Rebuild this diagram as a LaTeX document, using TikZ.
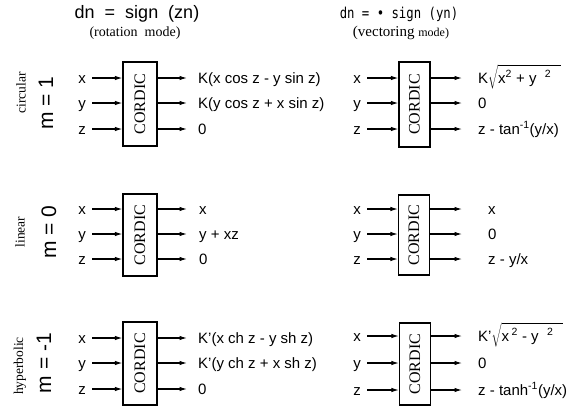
\documentclass[tikz,border=0pt]{standalone}
\usepackage{fontspec}
\setmainfont{Liberation Serif}
\setsansfont{Liberation Sans}
\newfontfamily\monof[FakeStretch=0.82]{DejaVu Sans Mono}
\usetikzlibrary{arrows.meta}
\begin{document}
\begin{tikzpicture}[x=1pt,y=-1pt,
  cbox/.style={draw, line width=1.2pt, minimum width=34pt, inner sep=0pt,
    font=\rmfamily\fontsize{16}{16}\selectfont},
  rbox/.style={cbox, minimum width=31pt},
  lbl/.style={inner xsep=0pt, inner ysep=0pt, text height=11pt, text depth=1pt,
    font=\sffamily\fontsize{15}{18}\selectfont},
  inl/.style={lbl, anchor=east},
  outl/.style={lbl, anchor=west},
  arr/.style={line width=1.1pt, -{Latex[length=7.5pt,width=4.5pt]}},
  inarr/.style={arr, shorten <=6pt},
  side/.style={rotate=90, font=\rmfamily\fontsize{13.5}{13.5}\selectfont},
  mlab/.style={rotate=90, font=\sffamily\fontsize{21}{21}\selectfont}
]
\useasboundingbox (0,0) rectangle (576,407);

% titles
\node[anchor=base, font=\sffamily\fontsize{18}{20}\selectfont] (t1) at (137,18) {dn\ \ =\ \ sign\ \ (zn)};
\node[anchor=base, font=\rmfamily\fontsize{14}{16}\selectfont] (s1) at (135,36) {(rotation\ \ mode)};
\node[anchor=base, font=\monof\fontsize{15}{17}\selectfont] (t2) at (399,18) {dn = • sign (yn)};
\node[anchor=base, font=\rmfamily] (s2) at (401,36) {\fontsize{15}{17}\selectfont(vectoring \fontsize{12}{14}\selectfont mode)};

% side labels
\node[side] (c1) at (21,93) {circular};
\node[mlab] (m1) at (46,103) {m = 1};
\node[side] (c2) at (20,232) {linear};
\node[mlab] (m2) at (49,232) {m = 0};
\node[side] (c3) at (20,366) {hyperbolic};
\node[mlab] (m3) at (44,363) {m = -1};

% ---------- left column ----------
% row 1
\node[cbox, minimum height=84pt] (L1) at (140,104) {\rotatebox{90}{CORDIC}};
\node[inl] (L1x) at (86,78) {x};
\node[inl] (L1y) at (86,103) {y};
\node[inl] (L1z) at (86,129) {z};
\node[outl] (L1a) at (198,78) {K(x cos z - y sin z)};
\node[outl] (L1b) at (198,103) {K(y cos z + x sin z)};
\node[outl] (L1c) at (198,129) {0};
% row 2
\node[cbox, minimum height=82pt] (L2) at (140,235) {\rotatebox{90}{CORDIC}};
\node[inl] (L2x) at (86,209) {x};
\node[inl] (L2y) at (86,234) {y};
\node[inl] (L2z) at (86,259) {z};
\node[outl] (L2a) at (199,209) {x};
\node[outl] (L2b) at (199,234) {y + xz};
\node[outl] (L2c) at (199,259) {0};
% row 3
\node[cbox, minimum height=83pt] (L3) at (140,363.5) {\rotatebox{90}{CORDIC}};
\node[inl] (L3x) at (86,338) {x};
\node[inl] (L3y) at (86,363) {y};
\node[inl] (L3z) at (86,389) {z};
\node[outl] (L3a) at (198,338) {K'(x ch z - y sh z)};
\node[outl] (L3b) at (198,363) {K'(y ch z + x sh z)};
\node[outl] (L3c) at (198,389) {0};

% ---------- right column ----------
% row 1
\node[rbox, minimum height=85pt] (R1) at (414.5,104.5) {\rotatebox{90}{CORDIC}};
\node[inl] (R1x) at (361,78) {x};
\node[inl] (R1y) at (361,103) {y};
\node[inl] (R1z) at (361,129) {z};
\node[outl] (R1a) at (478,78) {K$\sqrt{\rule{0pt}{15pt}\mbox{x\textsuperscript{2} + y\ \ \textsuperscript{2}\hspace{10pt}}}$};
\node[outl] (R1b) at (478,103) {0};
\node[outl] (R1c) at (478,129) {z - tan\textsuperscript{-1}(y/x)};
% row 2
\node[rbox, minimum height=80pt] (R2) at (414,235) {\rotatebox{90}{CORDIC}};
\node[inl] (R2x) at (361,209) {x};
\node[inl] (R2y) at (361,234) {y};
\node[inl] (R2z) at (361,259) {z};
\node[outl] (R2a) at (488,209) {x};
\node[outl] (R2b) at (488,234) {0};
\node[outl] (R2c) at (488,259) {z - y/x};
% row 3
\node[rbox, minimum height=82pt] (R3) at (415,364) {\rotatebox{90}{CORDIC}};
\node[inl] (R3x) at (361,336) {x};
\node[inl] (R3y) at (361,363) {y};
\node[inl] (R3z) at (361,390) {z};
\node[outl] (R3a) at (478,336) {K'$\sqrt{\rule{0pt}{15pt}\mbox{x\,\textsuperscript{2} - y\ \ \textsuperscript{2}\hspace{10pt}}}$};
\node[outl] (R3b) at (478,363) {0};
\node[outl] (R3c) at (478,390) {z - tanh\textsuperscript{-1}(y/x)};

% ---------- connectors ----------
\foreach \b in {L1,L2,L3,R1,R2,R3}{
  \foreach \v in {x,y,z}{
    \draw[inarr] (\b\v) -- (\b\v -| \b.west);
  }
}
\foreach \b/\s in {L1/11pt,L2/12pt,L3/11pt,R1/16pt,R2/26pt,R3/16pt}{
  \foreach \v in {a,b,c}{
    \draw[arr, shorten >=\s] (\b\v -| \b.east) -- (\b\v);
  }
}
\end{tikzpicture}
\end{document}
